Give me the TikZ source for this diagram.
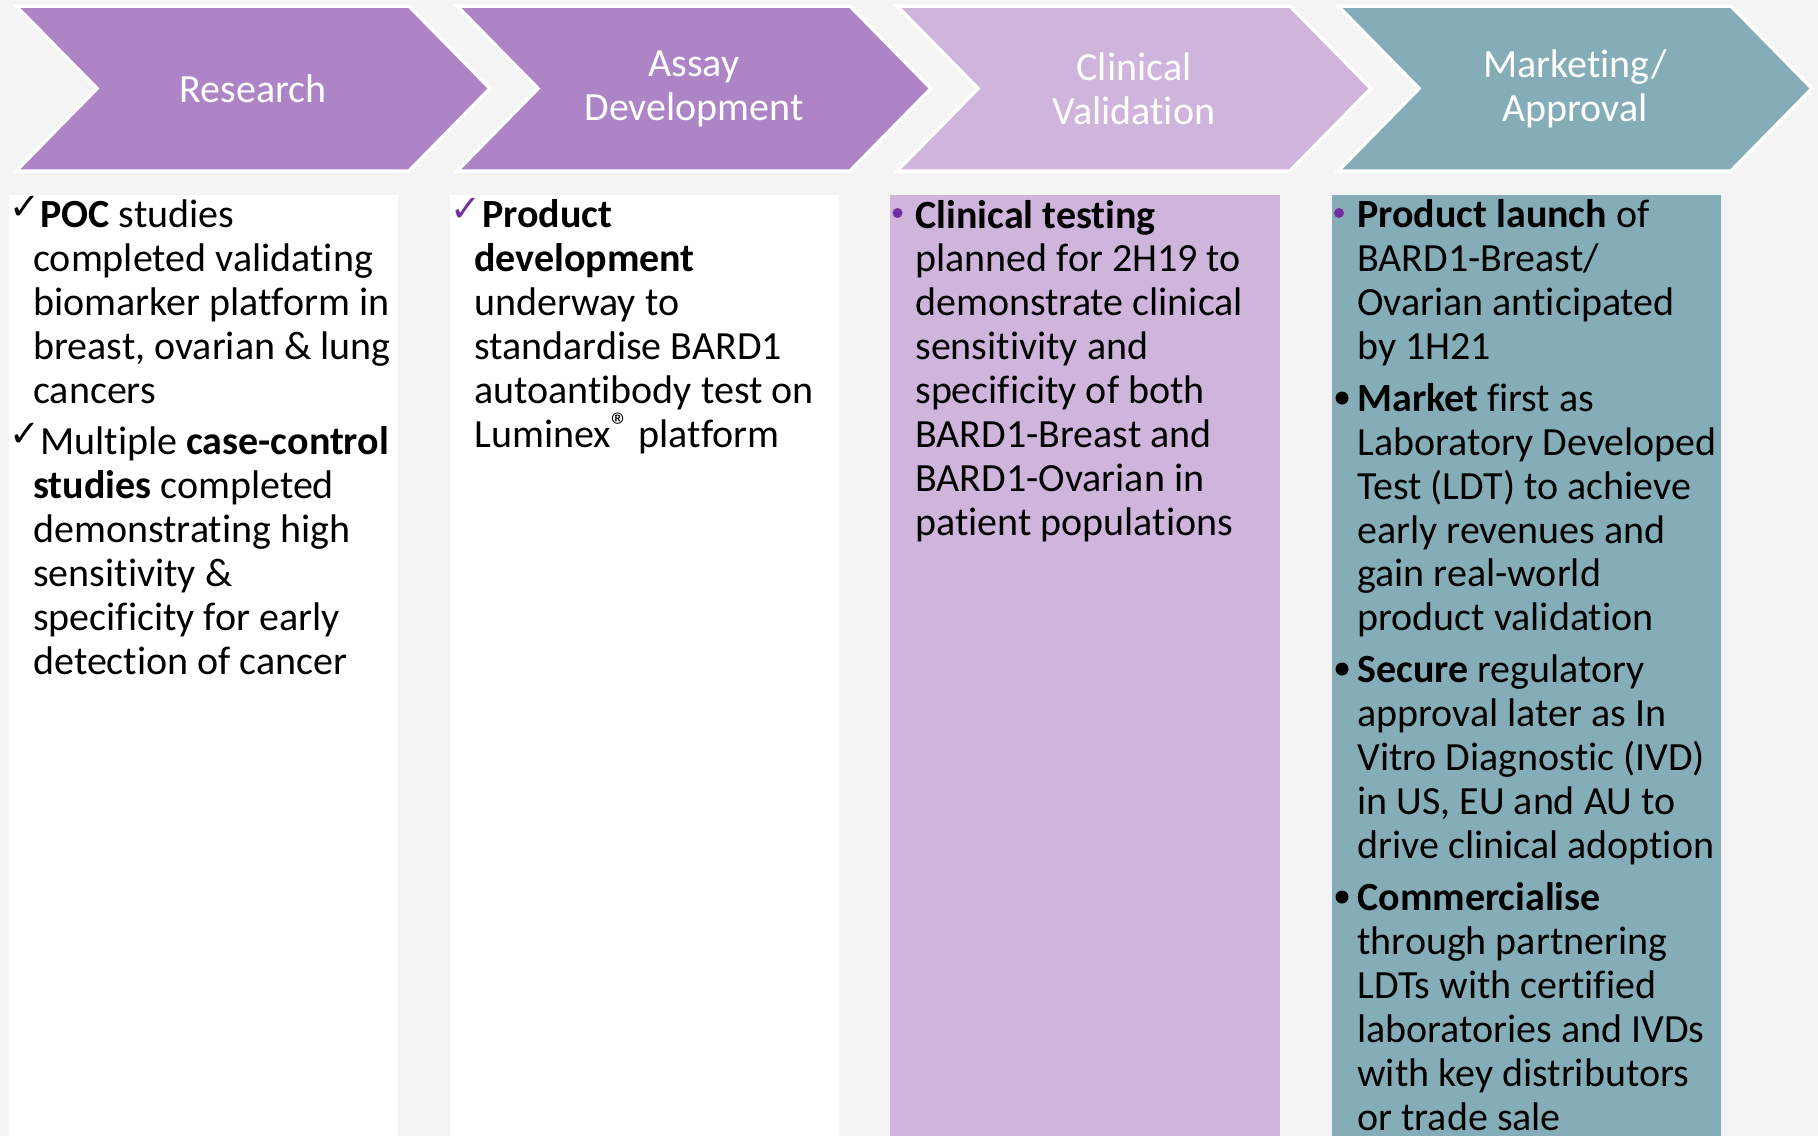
\documentclass[tikz,border=0pt]{standalone}
\usepackage{fontspec}
\setmainfont[Ligatures=NoCommon]{Carlito}
\newfontfamily\simbolos{DejaVu Sans}
\usepackage{tikz}
\definecolor{violeta}{RGB}{173,132,198}
\definecolor{lila}{RGB}{207,180,220}
\definecolor{verdoso}{RGB}{133,173,183}
\definecolor{fondo}{RGB}{244,244,244}
\definecolor{morado}{RGB}{112,48,160}
\tikzset{flecha/.style={draw=white, line width=0.7mm}}
\tikzset{titulo/.style={text=white, align=center}}
% base = linea de base de la ultima linea
\tikzset{texto/.style={anchor=base west, align=left}}
\tikzset{marca/.style={font=\simbolos\fontsize{21pt}{21pt}\selectfont}}
\tikzset{punto/.style={circle, fill=black, minimum size=0.26cm}}

\begin{document}
\begin{tikzpicture}[x=0.02cm, y=-0.02cm, every node/.style={inner sep=0pt, font=\fontsize{22.76pt}{24.95pt}\selectfont}]
    \useasboundingbox (0,0) rectangle (1818,1136);
    \fill[fondo] (0,0) rectangle (1818,1136);

    % columnas
    \fill[white]   (9,195)    rectangle (398,1136);
    \fill[white]   (450,195)  rectangle (839,1136);
    \fill[lila]    (890,195)  rectangle (1280,1136);
    \fill[verdoso] (1332,195) rectangle (1721,1136);

    % flechas
    \draw[flecha, fill=violeta] (16,6) -- (409,6) -- (490,88.5) -- (409,171) -- (16,171) -- (97,88.5) -- cycle;
    \draw[flecha, fill=violeta] (457,6) -- (850,6) -- (931,88.5) -- (850,171) -- (457,171) -- (538,88.5) -- cycle;
    \draw[flecha, fill=lila] (897,6) -- (1290,6) -- (1371,88.5) -- (1290,171) -- (897,171) -- (978,88.5) -- cycle;
    \draw[flecha, fill=verdoso] (1338,6) -- (1731,6) -- (1812,88.5) -- (1731,171) -- (1338,171) -- (1419,88.5) -- cycle;

    \node[titulo] (1) at (253,88.5) {Research};
    \node[titulo] (2) at (694,88.5) {Assay\\Development};
    \node[titulo] (3) at (1134,88.5) {Clinical\\Validation};
    \node[titulo] (4) at (1575,88.5) {Marketing/\\Approval};

    % investigacion
    \node[marca] (1v) at (25,208) {✓};
    \node[texto] (1a) at (33,403) {\hspace*{0.14cm}\textbf{POC} studies\\completed validating\\biomarker platform in\\breast, ovarian \& lung\\cancers};
    \node[marca] (1w) at (25,435) {✓};
    \node[texto] (1b) at (33,674) {\hspace*{0.14cm}Multiple \textbf{case-control}\\\textbf{studies} completed\\demonstrating high\\sensitivity \&\\specificity for early\\detection of cancer};

    % ensayo
    \node[marca, text=morado] (2v) at (465.5,210) {✓};
    \node[texto] (2a) at (474,447) {\hspace*{0.16cm}\textbf{Product}\\\textbf{development}\\underway to\\standardise BARD1\\autoantibody test on\\Luminex\raisebox{0.22em}{\fontsize{21pt}{21pt}\selectfont ®} platform};

    % validacion
    \node[punto, fill=morado, minimum size=0.2cm] (3p) at (897.5,213) {};
    \node[texto] (3a) at (915,535) {\textbf{Clinical testing}\\planned for 2H19 to\\demonstrate clinical\\sensitivity and\\specificity of both\\BARD1-Breast and\\BARD1-Ovarian in\\patient populations};

    % mercado
    \node[punto, fill=morado, minimum size=0.2cm] (4p) at (1339,213) {};
    \node[texto] (4a) at (1357,359) {\textbf{Product launch} of\\BARD1-Breast/\\Ovarian anticipated\\by 1H21};
    \node[punto] (4q) at (1342,398) {};
    \node[texto] (4b) at (1357,630.7) {\textbf{Market} first as\\Laboratory Developed\\Test (LDT) to achieve\\early revenues and\\gain real-world\\product validation};
    \node[punto] (4r) at (1342,669) {};
    \node[texto] (4c) at (1357,858) {\textbf{Secure} regulatory\\approval later as In\\Vitro Diagnostic (IVD)\\in US, EU and AU to\\drive clinical adoption};
    \node[punto] (4s) at (1342,897) {};
    \node[texto] (4d) at (1357,1130) {\textbf{Commercialise}\\through partnering\\LDTs with certified\\laboratories and IVDs\\with key distributors\\or trade sale};
\end{tikzpicture}
\end{document}
